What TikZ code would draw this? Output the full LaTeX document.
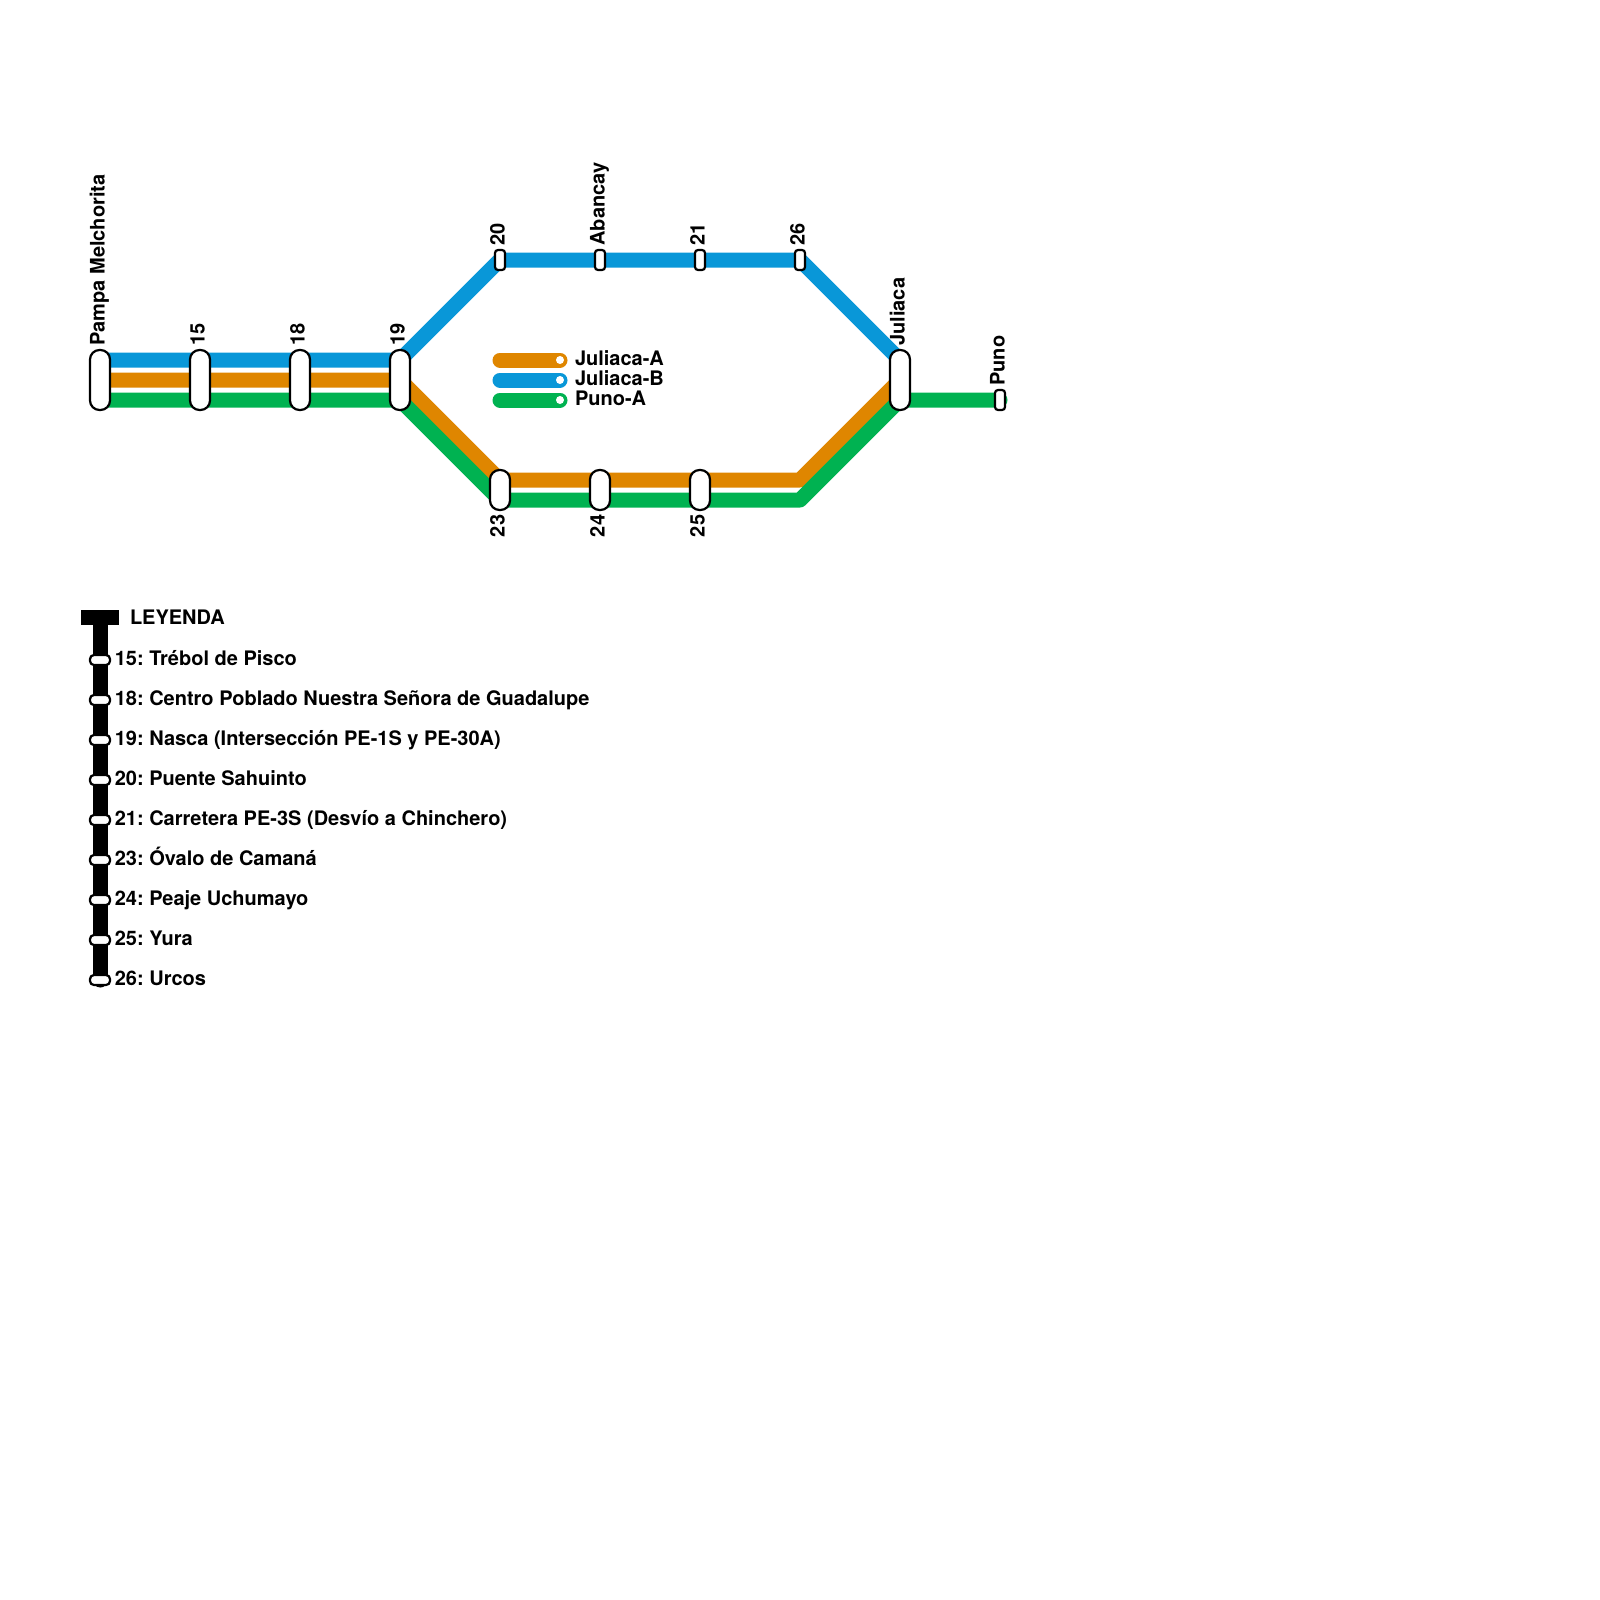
\documentclass[tikz,border=0pt]{standalone}
\usepackage{fontspec}
\setmainfont{TeX Gyre Heros}
\frenchspacing
\definecolor{lblue}{HTML}{0997D8}
\definecolor{lorange}{HTML}{DF8600}
\definecolor{lgreen}{HTML}{00B251}
\tikzset{
  route/.style={line width=15pt,line join=round,line cap=round},
  txt/.style={font=\bfseries\fontsize{20}{24}\selectfont,inner sep=0pt,outer sep=0pt,text=black},
  hlabel/.style={txt,anchor=base west},
  vlabel/.style={txt,rotate=90,anchor=base west},
  dlabel/.style={txt,rotate=90,anchor=base west},
  stn/.style={draw=black,fill=white,line width=2.2pt,rectangle,inner sep=0pt,outer sep=0pt},
  bigstn/.style={stn,minimum width=20pt,minimum height=60pt,rounded corners=9.5pt},
  midstn/.style={stn,minimum width=20pt,minimum height=40pt,rounded corners=9.5pt},
  smallstn/.style={stn,minimum width=10pt,minimum height=20pt,rounded corners=3pt},
  keystn/.style={stn,minimum width=20pt,minimum height=10pt,rounded corners=4pt},
  dot/.style={circle,fill=white,inner sep=0pt,minimum size=8pt}
}
\begin{document}
\begin{tikzpicture}[x=1pt,y=-1pt]
\useasboundingbox (0,0) rectangle (1600,1600);
% route way-points
\coordinate (b0) at (100,360); \coordinate (b1) at (400,360); \coordinate (b2) at (500,260);
\coordinate (b3) at (800,260); \coordinate (b4) at (900,360);
\coordinate (o0) at (100,380); \coordinate (o1) at (400,380); \coordinate (o2) at (500,480);
\coordinate (o3) at (800,480); \coordinate (o4) at (900,380);
\coordinate (g0) at (100,400); \coordinate (g1) at (400,400); \coordinate (g2) at (500,500);
\coordinate (g3) at (800,500); \coordinate (g4) at (900,400); \coordinate (g5) at (1000,400);
\draw[route,lblue] (b0)--(b1)--(b2)--(b3)--(b4);
\draw[route,lorange] (o0)--(o1)--(o2)--(o3)--(o4);
\draw[route,lgreen] (g0)--(g1)--(g2)--(g3)--(g4)--(g5);
% stations
\node[bigstn] (pampa) at (100,380) {};
\node[bigstn] (s15) at (200,380) {};
\node[bigstn] (s18) at (300,380) {};
\node[bigstn] (s19) at (400,380) {};
\node[bigstn] (juliaca) at (900,380) {};
\node[smallstn] (s20) at (500,260) {};
\node[smallstn] (abancay) at (600,260) {};
\node[smallstn] (s21) at (700,260) {};
\node[smallstn] (s26) at (800,260) {};
\node[midstn] (s23) at (500,490) {};
\node[midstn] (s24) at (600,490) {};
\node[midstn] (s25) at (700,490) {};
\node[smallstn] (puno) at (1000,400) {};
% station labels
\node[vlabel] (lpampa) at (104.7,345.6) {Pampa Melchorita};
\node[vlabel] (l15) at (204.7,345.6) {15};
\node[vlabel] (l18) at (304.7,345.6) {18};
\node[vlabel] (l19) at (404.7,345.6) {19};
\node[vlabel] (l20) at (504.7,245.6) {20};
\node[vlabel] (labancay) at (604.7,245.6) {Abancay};
\node[vlabel] (l21) at (704.7,245.6) {21};
\node[vlabel] (l26) at (804.7,245.6) {26};
\node[vlabel] (ljuliaca) at (904.7,345.6) {Juliaca};
\node[vlabel] (lpuno) at (1004.7,385.6) {Puno};
\node[dlabel] (l23) at (504.7,537) {23};
\node[dlabel] (l24) at (604.7,537) {24};
\node[dlabel] (l25) at (704.7,537) {25};
% line key
\coordinate (ka0) at (500,360); \coordinate (kb0) at (500,380); \coordinate (kc0) at (500,400);
\node[dot] (ka1) at (560,360) {}; \node[dot] (kb1) at (560,380) {}; \node[dot] (kc1) at (560,400) {};
\draw[route,lorange] (ka0)--(ka1.center);
\draw[route,lblue] (kb0)--(kb1.center);
\draw[route,lgreen] (kc0)--(kc1.center);
\node[dot] at (ka1) {}; \node[dot] at (kb1) {}; \node[dot] at (kc1) {};
\node[hlabel] (tka) at (575,365) {Juliaca-A};
\node[hlabel] (tkb) at (575,385) {Juliaca-B};
\node[hlabel] (tkc) at (575,405) {Puno-A};
% legend
\node[fill=black,minimum width=37pt,minimum height=15pt,inner sep=0pt] (legbar) at (99.8,617.5) {};
\coordinate (legend) at (100,980);
\draw[route,black] (100,617.5)--(legend);
\fill[black] (legbar.north west) rectangle (legbar.south east);
\node[hlabel] (tleg) at (130,624.4) {LEYENDA};
\foreach \n/\y/\t in {a/660/15: Trébol de Pisco,
  b/700/18: Centro Poblado Nuestra Señora de Guadalupe,
  c/740/19: Nasca (Intersección PE-1S y PE-30A),
  d/780/20: Puente Sahuinto,
  e/820/21: Carretera PE-3S (Desvío a Chinchero),
  f/860/23: Óvalo de Camaná,
  g/900/24: Peaje Uchumayo,
  h/940/25: Yura,
  i/980/26: Urcos}{
  \node[keystn] (k\n) at (100,\y) {};
  \node[hlabel] (t\n) at (114.8,\y+5) {\t};
}
\end{tikzpicture}
\end{document}
